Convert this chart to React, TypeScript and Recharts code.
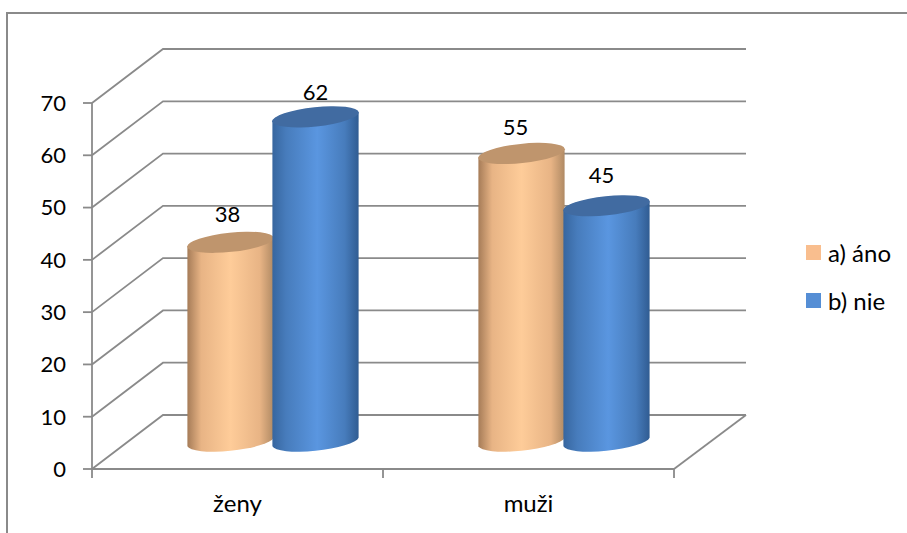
import { BarChart, Bar, XAxis, YAxis, CartesianGrid, Legend, LabelList } from 'recharts';

const categories = ['ženy', 'muži'];
const anoValues = [38, 55];
const nieValues = [62, 45];
const yTicks = [0, 10, 20, 30, 40, 50, 60, 70];

const chartData = categories.map((name, i) => ({ name, ano: anoValues[i], nie: nieValues[i] }));

const FONT = 'Lato, sans-serif';
const TEXT = '#000000';
const AXIS = '#8A8A8A';
const LINE = 1.8;

// fake 3D: how far the back wall sits from the front axes
const WALL_DX = 71;
const WALL_DY = -54;
// cylinders stand in the middle of the floor
const BAR_DX = 35;
const BAR_DY = -27;
const BAND = 291;

function CylinderBar(props: any) {
  const { x, y, width, height, fill, gradientId, capColor } = props;
  const rx = width / 2 + 1;
  const cx = x + width / 2 + BAR_DX;
  const top = y + BAR_DY - 1;
  const base = y + height + BAR_DY;
  const ry = 9.6;
  const left = cx - rx + 0.4;
  const right = cx + rx - 0.4;
  const tilt = 4.3;
  const arc = `A${rx} ${ry} -6`;
  return (
    <g>
      <path
        d={`M${left} ${top + tilt} ${arc} 0 1 ${right} ${top - tilt} L${right} ${base - tilt} ${arc} 0 1 ${left} ${base + tilt} Z`}
        fill={`url(#${gradientId})`}
        stroke="none"
        data-fill={fill}
      />
      <ellipse cx={cx} cy={top} rx={rx} ry={ry} fill={capColor} transform={`rotate(-6 ${cx} ${top})`} />
    </g>
  );
}

// labels are not quite centred over the cylinders in the original
const labelNudge: Record<string, [number, number]> = {
  'ženy-ano': [-3, -2],
  'ženy-nie': [0, 1],
  'muži-ano': [-6, 0],
  'muži-nie': [-5, -5],
};

function valueLabel(series: string) {
  return (props: any) => {
    const { x, y, width, value, index } = props;
    const [dx, dy] = labelNudge[`${categories[index]}-${series}`];
    return (
      <text
        x={x + width / 2 + BAR_DX + dx}
        y={y + BAR_DY - 19 + dy}
        textAnchor="middle"
        fontFamily={FONT}
        fontSize={22}
        fill={TEXT}
      >
        {value}
      </text>
    );
  };
}

function WallLine(props: any) {
  const { x1, y1, x2 } = props;
  return (
    <path
      d={`M${x1} ${y1} L${x1 + WALL_DX} ${y1 + WALL_DY} L${x2 + WALL_DX + 1} ${y1 + WALL_DY}`}
      fill="none"
      stroke={AXIS}
      strokeWidth={LINE}
    />
  );
}

function CategoryTick(props: any) {
  const { x, y, payload, index } = props;
  const edge = BAND / 2;
  const axisY = y - 8;
  return (
    <g>
      <line x1={x - edge} y1={axisY} x2={x - edge} y2={axisY + 9} stroke={AXIS} strokeWidth={LINE} />
      {index === categories.length - 1 && (
        <>
          <line x1={x + edge} y1={axisY} x2={x + edge} y2={axisY + 9} stroke={AXIS} strokeWidth={LINE} />
          <line x1={x + edge} y1={axisY} x2={x + edge + WALL_DX + 1} y2={axisY + WALL_DY} stroke={AXIS} strokeWidth={LINE} />
        </>
      )}
      <text x={x} y={axisY + 43} textAnchor="middle" fontFamily={FONT} fontSize={24} fill={TEXT}>
        {payload.value}
      </text>
    </g>
  );
}

function SideLegend(props: any) {
  return (
    <div style={{ fontFamily: FONT, fontSize: 24, color: TEXT }}>
      {props.payload.map((item: any) => (
        <div key={item.value} style={{ display: 'flex', alignItems: 'center', height: 48 }}>
          <span style={{ width: 15, height: 15, background: item.color, marginRight: 7 }} />
          <span>{item.value}</span>
        </div>
      ))}
    </div>
  );
}

export default function App() {
  return (
    <div style={{ position: 'absolute', left: 0, top: 0, width: 907, height: 533, background: '#fff', overflow: 'hidden' }}>
      {/* outer chart frame, only left and top edges are in the picture */}
      <div style={{ position: 'absolute', left: 6, top: 12, width: 901, height: 521, borderLeft: `2px solid ${AXIS}`, borderTop: `2px solid ${AXIS}` }} />
      <div style={{ position: 'absolute', left: 0, top: 0 }}>
        <BarChart
          width={907}
          height={533}
          data={chartData}
          margin={{ top: 103, right: 133, bottom: 0, left: 0 }}
          barSize={85}
          barGap={0}
          style={{ overflow: 'visible' }}
        >
          <defs>
            <linearGradient id="anoGrad" x1="0" y1="0" x2="1" y2="0">
              <stop offset="0%" stopColor="#A67C58" />
              <stop offset="16%" stopColor="#E8B485" />
              <stop offset="50%" stopColor="#FECC99" />
              <stop offset="84%" stopColor="#E8B485" />
              <stop offset="100%" stopColor="#B08A64" />
            </linearGradient>
            <linearGradient id="nieGrad" x1="0" y1="0" x2="1" y2="0">
              <stop offset="0%" stopColor="#37669F" />
              <stop offset="16%" stopColor="#477CBC" />
              <stop offset="52%" stopColor="#5A96E0" />
              <stop offset="84%" stopColor="#477CBC" />
              <stop offset="100%" stopColor="#305C92" />
            </linearGradient>
          </defs>
          <CartesianGrid vertical={false} horizontal={WallLine as any} />
          <XAxis
            dataKey="name"
            axisLine={{ stroke: AXIS, strokeWidth: LINE }}
            tickLine={false}
            tick={CategoryTick as any}
            interval={0}
            height={64}
          />
          <YAxis
            domain={[0, 70]}
            ticks={yTicks}
            interval={0}
            width={92}
            axisLine={{ stroke: AXIS, strokeWidth: LINE }}
            tickLine={{ stroke: AXIS, strokeWidth: LINE }}
            tickSize={9}
            tickMargin={17}
            tick={{ fontFamily: FONT, fontSize: 22, fill: TEXT }}
          />
          <Bar
            dataKey="ano"
            name="a) áno"
            fill="#F9BE8E"
            isAnimationActive={false}
            shape={(p: any) => <CylinderBar {...p} gradientId="anoGrad" capColor="#BF956D" />}
          >
            <LabelList dataKey="ano" content={valueLabel('ano') as any} />
          </Bar>
          <Bar
            dataKey="nie"
            name="b) nie"
            fill="#558ED5"
            isAnimationActive={false}
            shape={(p: any) => <CylinderBar {...p} gradientId="nieGrad" capColor="#416BA1" />}
          >
            <LabelList dataKey="nie" content={valueLabel('nie') as any} />
          </Bar>
          <Legend
            layout="vertical"
            align="right"
            verticalAlign="middle"
            content={SideLegend as any}
            wrapperStyle={{ position: 'absolute', left: 806, top: 228, width: 100, bottom: 'auto', right: 'auto' }}
          />
        </BarChart>
      </div>
    </div>
  );
}
